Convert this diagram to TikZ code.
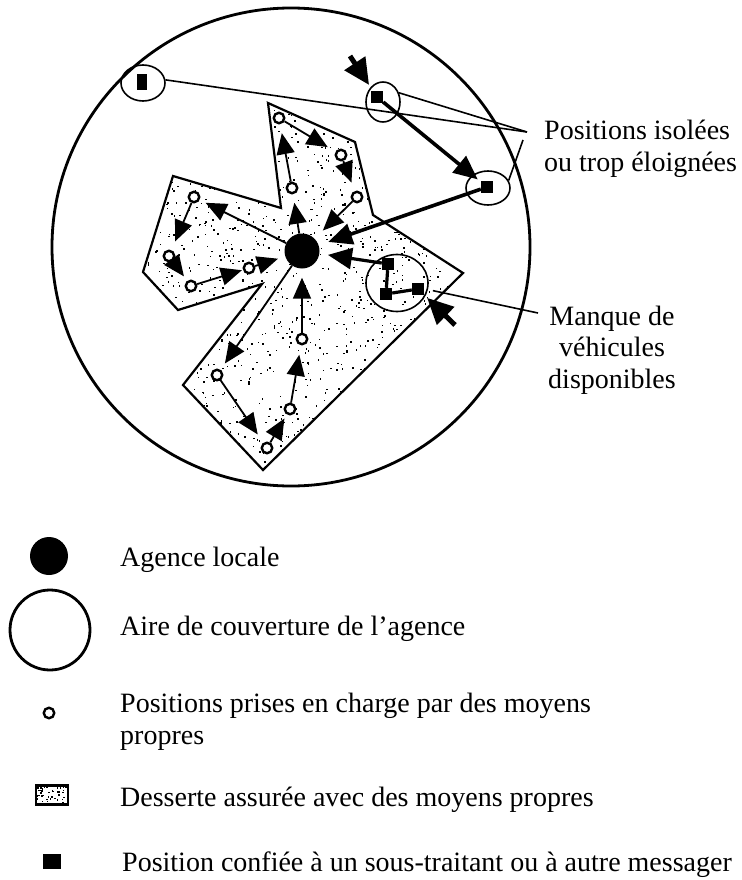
\documentclass[tikz,border=0pt]{standalone}
\usepackage{fontspec}
\setmainfont{Liberation Serif}
\usetikzlibrary{arrows.meta,shapes.geometric}
\begin{document}
\begin{tikzpicture}[x=1pt,y=-1pt,
    lbl/.style={font=\fontsize{28}{31.5}\selectfont, inner sep=0pt},
    agency/.style={circle, fill=black, inner sep=0pt, minimum size=35pt},
    own/.style={circle, draw, fill=white, line width=2.4pt, inner sep=0pt, minimum size=10.5pt},
    sub/.style={fill=black, inner sep=0pt, minimum width=12pt, minimum height=12pt},
    ring/.style={ellipse, draw, line width=1.6pt, inner sep=0pt},
    trip/.style={line width=1.8pt, -{Triangle[length=21pt,width=18pt]}, shorten >=#1},
    trip/.default=9pt,
    haul/.style={line width=3.6pt, -{Triangle[length=24pt,width=21pt]}, shorten >=#1},
    haul/.default=8pt,
    feed/.style={line width=5pt, -{Triangle[length=26pt,width=24pt]}, shorten >=#1},
    pointer/.style={line width=1.6pt}]
    \useasboundingbox (0,0) rectangle (741,880);
    \node[circle, draw, line width=2.8pt, inner sep=0pt, minimum size=478pt] (area) at (291,247) {};
    \begin{scope}
      \clip (268,103) -- (355,142) -- (373,215) -- (463,273) -- (263,470) -- (183,385) -- (262,284) -- (178,310) -- (143,272) -- (173,176) -- (281,208) -- cycle;
      \pgfmathsetseed{42}
      \foreach \k in {1,...,1400}
        \fill ({143+320*rnd},{103+367*rnd}) rectangle ++(1.5,1.5);
    \end{scope}
    \draw[line width=2.2pt, line join=miter] (268,103) -- (355,142) -- (373,215) -- (463,273) -- (263,470) -- (183,385) -- (262,284) -- (178,310) -- (143,272) -- (173,176) -- (281,208) -- cycle;
    \node[ring, minimum width=44pt, minimum height=36pt] (e1) at (143,83) {};
    \node[ring, minimum width=34pt, minimum height=40pt] (e2) at (383,102) {};
    \node[ring, minimum width=44pt, minimum height=34pt] (e3) at (488,188) {};
    \node[ring, minimum width=62pt, minimum height=57pt] (mq) at (397,283) {};
    \node[sub, minimum height=16pt, minimum width=10pt] (s1) at (142,82) {};
    \node[sub] (s2) at (377,97) {};
    \node[sub] (s3) at (487,187) {};
    \node[sub] (q1) at (388,264) {};
    \node[sub] (q2) at (386,294) {};
    \node[sub] (q3) at (418,289) {};
    \node[agency] (ag) at (302,251) {};
    \node[own] (p1) at (279,118) {};
    \node[own] (p2) at (341,155) {};
    \node[own] (p3) at (292,188) {};
    \node[own] (p4) at (357,197) {};
    \node[own] (p5) at (194,197) {};
    \node[own] (p6) at (169,256) {};
    \node[own] (p7) at (191,286) {};
    \node[own] (p8) at (249,268) {};
    \node[own] (p9) at (302,339) {};
    \node[own] (p10) at (217,375) {};
    \node[own] (p11) at (290,409) {};
    \node[own] (p12) at (267,448) {};
    \draw[trip] (p1) -- (p2);
    \draw[trip] (p2) -- (p4);
    \draw[trip=11.5pt] (p4) -- (ag);
    \draw[trip] (p3) -- (p1);
    \draw[trip=8.5pt] (ag) -- (p3);
    \draw[trip=6.5pt] (ag) -- (p5);
    \draw[trip=9.5pt] (p5) -- (p6);
    \draw[trip=5.5pt] (p6) -- (p7);
    \draw[trip=1pt] (p7) -- (p8);
    \draw[trip=7.5pt] (p8) -- (ag);
    \draw[trip=9pt] (p9) -- (ag);
    \draw[trip=7.5pt] (ag) -- (p10);
    \draw[trip=10pt] (p10) -- (p12);
    \draw[trip=4.5pt] (p12) -- (p11);
    \draw[trip=9.5pt] (p11) -- (p9);
    \draw[haul=4pt] (s2) -- (s3);
    \draw[haul=10pt] (s3) -- (ag);
    \draw[line width=3.2pt] (q3) -- (q2) -- (q1);
    \draw[haul=8.5pt, line width=3.2pt] (q1) -- (ag);
    \coordinate (inA) at (350,56);
    \coordinate (inB) at (455,325);
    \draw[feed=7pt] (inA) -- (s2);
    \draw[feed=4pt] (inB) -- (q3);
    \coordinate (isoA) at (527,132);
    \coordinate (isoB) at (523,140);
    \coordinate (mqA) at (538,313);
    \draw[pointer] (e1.8) -- (isoA);
    \draw[pointer] (e2.30) -- (isoA);
    \draw[pointer] (e3.20) -- (isoB);
    \draw[pointer, shorten <=5pt] (mq) -- (mqA);
    \node[lbl, anchor=west, align=left] (tiso) at (544,149) {Positions isolées\\ou trop éloignées};
    \node[lbl, align=center] (tmq) at (612,350) {Manque de\\véhicules\\disponibles};
    \node[agency, minimum size=38pt] (kag) at (49,556) {};
    \node[circle, draw, line width=2.8pt, inner sep=0pt, minimum size=80pt] (karea) at (50,630) {};
    \node[own] (kown) at (49,713) {};
    \begin{scope}
      \clip (36,786) rectangle (68,804);
      \foreach \k in {1,...,50}
        \fill ({36+32*rnd},{786+18*rnd}) rectangle ++(1.5,1.5);
    \end{scope}
    \node[draw, line width=2.8pt, inner sep=0pt, minimum width=32pt, minimum height=19pt] (kshade) at (52,795) {};
    \node[sub, minimum width=18pt, minimum height=15pt] (ksub) at (52,861) {};
    \node[lbl, anchor=base west] (tag) at (120,566) {Agence locale};
    \node[lbl, anchor=base west] (tarea) at (120,635) {Aire de couverture de l'agence};
    \node[lbl, anchor=west, align=left] (town) at (120,722) {Positions prises en charge par des moyens\\propres};
    \node[lbl, anchor=base west] (tsub) at (122,871) {Position confiée à un sous-traitant ou à autre messager};
    \node[lbl, anchor=base west] (tshade) at (120,806) {Desserte assurée avec des moyens propres};
\end{tikzpicture}
\end{document}
